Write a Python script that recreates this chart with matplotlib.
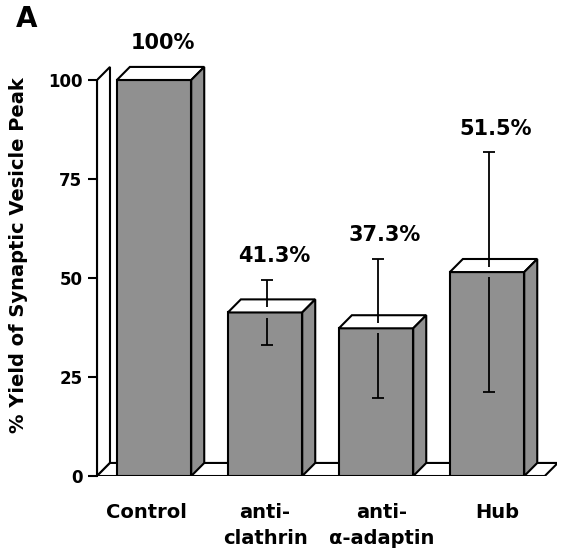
import matplotlib
matplotlib.use("Agg")
import matplotlib.pyplot as plt
from matplotlib.patches import Polygon
import numpy as np

categorias = ["Control", "anti-\nclathrin", "anti-\nα-adaptin", "Hub"]
valores = [100, 41.3, 37.3, 51.5]
errores = [0, 8.3, 17.5, 30.2]
etiquetas = ["100%", "41.3%", "37.3%", "51.5%"]
ticks_y = [0, 25, 50, 75, 100]

GRIS = "#909090"
ANCHO = 0.67
DX, DY = 0.117, 3.3  # profundidad del efecto 3D (en unidades de datos)
X0, XFIN = -0.514, 3.52
LW = 1.5

plt.rcParams["font.family"] = ["DejaVu Sans"]

fig = plt.figure(figsize=(5.64, 5.57), dpi=100)
ax = fig.add_axes([0.172, 0.1454, 0.8156, 0.7963])
ax.set_xlim(X0, 3.63)
ax.set_ylim(0, 112)

x = np.arange(len(valores))

# pared y piso
pared = Polygon([(X0, 0), (X0, 100), (X0 + DX, 100 + DY), (X0 + DX, DY)],
                closed=True, facecolor="white", edgecolor="black", lw=LW, zorder=1)
piso = Polygon([(X0, 0), (XFIN, 0), (XFIN + DX, DY), (X0 + DX, DY)],
               closed=True, facecolor="white", edgecolor="black", lw=LW, zorder=1)
ax.add_patch(pared)
ax.add_patch(piso)

# barras (cara frontal)
ax.bar(x, valores, width=ANCHO, color=GRIS, edgecolor="black", linewidth=LW, zorder=3)

for xi, v in zip(x, valores):
    izq, der = xi - ANCHO / 2, xi + ANCHO / 2
    tapa = [(izq, v), (der, v), (der + DX, v + DY), (izq + DX, v + DY)]
    lado = [(der, 0), (der, v), (der + DX, v + DY), (der + DX, DY)]
    ax.add_patch(Polygon(tapa, closed=True, facecolor="white", edgecolor="black", lw=LW, zorder=3))
    ax.add_patch(Polygon(lado, closed=True, facecolor=GRIS, edgecolor="black", lw=LW, zorder=3))

# barras de error (la linea se corta en la tapa)
for xi, v, e in zip(x, valores, errores):
    if e == 0:
        continue
    xe = xi + 0.015
    ax.vlines(xe, v + 1.3, v + e, color="black", lw=1.3, zorder=4)
    ax.vlines(xe, v - e, v - 1.3, color="black", lw=1.3, zorder=4)
    ax.hlines([v + e, v - e], xe - 0.055, xe + 0.055, color="black", lw=1.3, zorder=4)

# porcentajes arriba
for xi, v, e, t in zip(x, valores, errores, etiquetas):
    y = max(v + DY, v + e) + 6
    ax.text(xi + 0.08, y, t, ha="center", va="center", fontsize=15,
            fontweight="bold", clip_on=False)

# nombres de las categorias
for xi, cat, dx in zip(x, categorias, [-0.07, 0.0, 0.05, 0.09]):
    ax.text(xi + dx, -6.7, cat, ha="center", va="top", fontsize=14,
            fontweight="bold", linespacing=1.5, clip_on=False)

for s in ["top", "right", "bottom"]:
    ax.spines[s].set_visible(False)
ax.spines["left"].set_bounds(0, 100)
ax.spines["left"].set_linewidth(LW)
ax.spines["left"].set_zorder(2)

ax.set_yticks(ticks_y)
ax.set_yticklabels([str(t) for t in ticks_y], fontsize=12, fontweight="bold")
ax.tick_params(axis="y", length=6.5, width=LW, pad=4)
ax.set_xticks([])

fig.text(0.032, 0.542, "% Yield of Synaptic Vesicle Peak", rotation=90,
         ha="center", va="center", fontsize=14, fontweight="bold")
fig.text(0.028, 0.9515, "A", ha="left", va="baseline", fontsize=20, fontweight="bold")

fig.savefig("out.png", dpi=100)
